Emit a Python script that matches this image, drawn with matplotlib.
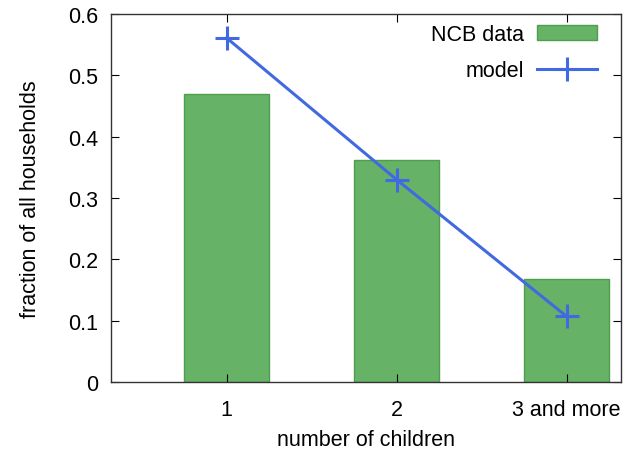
import numpy as np
import matplotlib
matplotlib.use("Agg")
import matplotlib.pyplot as plt

plt.rcParams['font.family'] = ['Liberation Sans', 'DejaVu Sans']

categories = ['1', '2', '3 and more']
ncb_data = [0.469, 0.362, 0.168]
model = [0.561, 0.330, 0.107]

x = np.arange(1, len(categories) + 1)

fig = plt.figure(figsize=(6.23, 4.52), dpi=100)
ax = fig.add_axes([111/623, 1 - 383/452, (621-111)/623, (383-15)/452])

bars = ax.bar(x, ncb_data, width=0.5, color='#66b266', edgecolor='#4f9e4f', linewidth=1,
              label='NCB data')
line, = ax.plot(x, model, color='#4169e1', linewidth=2.2, marker='+', markersize=17,
                markeredgewidth=2.2, label='model')

ax.set_xlim(0.32, 3.32)
ax.set_ylim(0, 0.6)
ax.set_xticks(x)
ax.set_xticklabels(categories)
ax.set_yticks([0, 0.1, 0.2, 0.3, 0.4, 0.5, 0.6])
ax.set_yticklabels(['0', '0.1', '0.2', '0.3', '0.4', '0.5', '0.6'])
ax.tick_params(direction='in', top=True, right=True, labelsize=15.5, length=6)
ax.tick_params(axis='x', pad=12)
ax.tick_params(axis='y', pad=9)
for s in ax.spines.values():
    s.set_linewidth(1)
    s.set_color('#333333')

ax.set_xlabel('number of children', fontsize=15.5, labelpad=7)
ax.set_ylabel('fraction of all households', fontsize=15.5, labelpad=20)

ax.legend([bars, line], ['NCB data', 'model'], loc='upper right', frameon=False,
          bbox_to_anchor=(0.97, 0.997), markerfirst=False, fontsize=15.5,
          handlelength=2.8, borderaxespad=0, labelspacing=0.72, handletextpad=0.6)

fig.savefig('out.png', dpi=100)
